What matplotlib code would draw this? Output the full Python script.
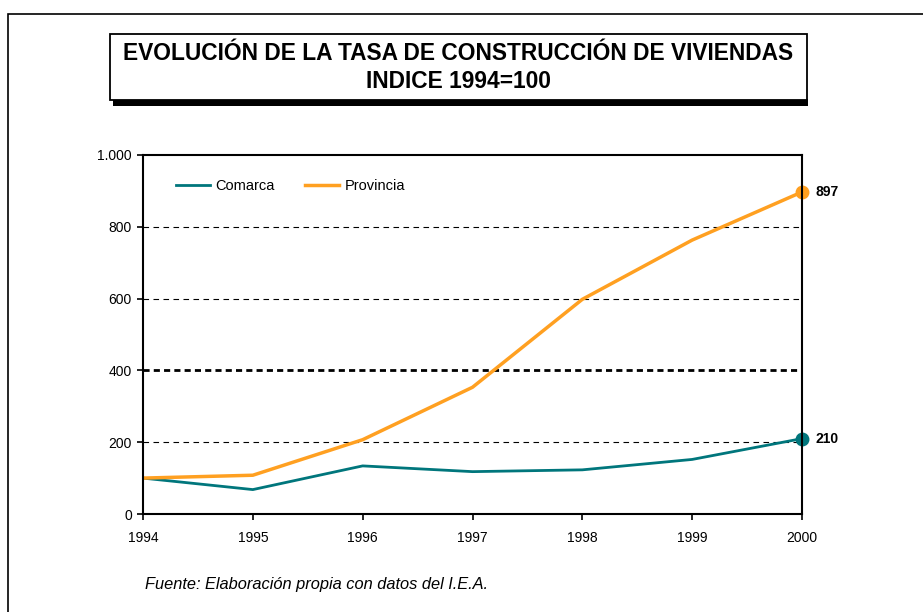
import matplotlib
matplotlib.use("Agg")
import matplotlib.pyplot as plt
from matplotlib.patches import Rectangle
from matplotlib.ticker import FuncFormatter

plt.rcParams["font.family"] = ["Liberation Sans", "DejaVu Sans"]

# Datos (índice 1994=100)
anios = [1994, 1995, 1996, 1997, 1998, 1999, 2000]
comarca = [100, 68, 134, 118, 123, 152, 210]
provincia = [100, 108, 207, 353, 598, 763, 897]

TITULO_1 = "EVOLUCIÓN DE LA TASA DE CONSTRUCCIÓN DE VIVIENDAS"
TITULO_2 = "INDICE 1994=100"
FUENTE = "Fuente: Elaboración propia con datos del I.E.A."
COLOR_COMARCA = "#00767C"
COLOR_PROVINCIA = "#FFA021"

fig = plt.figure(figsize=(9.23, 6.12), dpi=100)
W, H = 923, 612

# marco exterior
fig.add_artist(Rectangle((8 / W, -0.05), 1.1, 1 - 14 / H + 0.05, transform=fig.transFigure,
                         fill=False, edgecolor="black", lw=1.2))

# caja del título con sombra
fig.add_artist(Rectangle((113 / W, 1 - 106 / H), (808 - 113) / W, (106 - 99) / H,
                         transform=fig.transFigure, facecolor="black", edgecolor="none"))
fig.add_artist(Rectangle((110 / W, 1 - 100 / H), (807 - 110) / W, (100 - 34) / H,
                         transform=fig.transFigure, facecolor="white", edgecolor="black", lw=1.3))
fig.text(458 / W, 1 - 54 / H, TITULO_1, ha="center", va="center", fontsize=16.4, fontweight="bold")
fig.text(458 / W, 1 - 82 / H, TITULO_2, ha="center", va="center", fontsize=16.4, fontweight="bold")

ax = fig.add_axes([143 / W, 1 - 514 / H, (802 - 143) / W, (514 - 155) / H])
ax.plot(anios, comarca, color=COLOR_COMARCA, lw=2, label="Comarca")
ax.plot(anios, provincia, color=COLOR_PROVINCIA, lw=2.5, label="Provincia")
ax.plot(anios[-1], comarca[-1], "o", color=COLOR_COMARCA, ms=9, clip_on=False)
ax.plot(anios[-1], provincia[-1], "o", color=COLOR_PROVINCIA, ms=9, clip_on=False)
ax.annotate(str(comarca[-1]), (anios[-1], comarca[-1]), xytext=(10, 0), textcoords="offset points",
            va="center", fontsize=10, fontweight="bold")
ax.annotate(str(provincia[-1]), (anios[-1], provincia[-1]), xytext=(10, 0), textcoords="offset points",
            va="center", fontsize=10, fontweight="bold")

for y in [200, 600, 800]:
    ax.axhline(y, color="black", lw=0.8, ls=(0, (5, 4)), zorder=0)
ax.axhline(400, color="black", lw=2, ls=(0, (2.2, 1.5)), zorder=0)

ax.set_xlim(anios[0], anios[-1])
ax.set_ylim(0, 1000)
ax.set_xticks(anios)
ax.set_yticks(range(0, 1001, 200))
ax.yaxis.set_major_formatter(FuncFormatter(lambda v, p: f"{int(v):,}".replace(",", ".")))
ax.tick_params(labelsize=10, length=4, width=1.2, direction="out", pad=4)
ax.tick_params(axis="x", pad=8)
for s in ax.spines.values():
    s.set_linewidth(1.5)

ax.legend(loc="center left", bbox_to_anchor=(0.041, 0.913), ncol=2, frameon=False, fontsize=10.5,
          handlelength=2.35, columnspacing=2.1, handletextpad=0.35, borderaxespad=0.0)

fig.text(145 / W, 1 - 585 / H, FUENTE, fontsize=11.8, style="italic", va="center")

fig.savefig("out.png", dpi=100)
